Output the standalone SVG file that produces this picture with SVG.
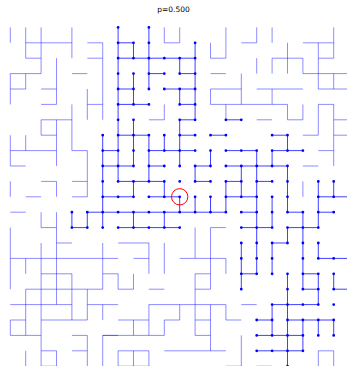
<svg xmlns="http://www.w3.org/2000/svg" width="347" height="366" viewBox="0 0 347 366">
<style>
.e{fill:none;stroke:#0000ff;stroke-width:1;vector-effect:non-scaling-stroke;stroke-linecap:butt}
.p{stroke-opacity:0.45}
.c{stroke-opacity:0.75}
.d{fill:none;stroke:#0000ff;stroke-width:2.8;stroke-linecap:round;vector-effect:non-scaling-stroke}
.t{font-family:"DejaVu Sans",sans-serif;font-size:7.5px;fill:#000}
</style>
<rect width="347" height="366" fill="#fff"/>
<text class="t" x="173.5" y="12" text-anchor="middle">p=0.500</text>
<g transform="translate(10.3,27.4) scale(15.4)">
<g id="connectors">
<path class="e p" d="M0 0v1M1 0v2M1 1h3M4 0v2M2 0v3M5 1h1M6 1v5M1 2h1M5 2h1M3 2v3M2 5h1M0 3h2M0 3v2M1 3v1M4 3h1M0 4h1M2 4h1M5 4v2M5 5h1M4 5v3M4 8h1M5 8v3M2 6h2M2 6v1M2 7h1M3 6v3M0 7v2M1 7v1M0 8h3M0 9h1M0 10v1M2 10h1M3 10v1M4 10h1M1 11h1M4 11h1M0 12h1M2 12v1M2 13h1M3 12v6M3 14h1M2 14v8M0 13v4M0 15h7M1 15v1M6 14v3M2 16h2M4 16v3M6 16h1M1 17h5M1 17v3M5 17v2M0 18h4M5 18h2M6 18v1M0 19h1M2 19h3M0 19v1M0 20h2M4 20h1M5 20v2M6 20h1M6 20v2M2 21h1M3 21v1M4 21h1M1 21v1M2 22h1
M10 0v1M10 1h1M11 0v1M14 0v2M13 2h1M13 1v1M13 3h1M13 4h2M13 4v1M13 5h5M14 5v1M10 5v1M9 6h1
M15 1h1M16 0v1M17 0v1M18 1v2M19 1h2M21 0v2M20 1v3M20 2h1M16 2v1M17 2h2M17 2v1M19 2v1M19 3h3M21 3v1M20 4h2M15 3v2M16 4h3M17 4v1M20 5h1
M18 5v1M18 6h1M19 5v1M20 5v2M19 7h1M21 5v4M21 6h1M21 7h1M16 6h1M20 8h1M19 9h1M19 10v1
M7 14h2M9 14v2M10 14v2M12 13v2M13 13v3M13 13h1M8 15h1M11 15h3M8 16v1M12 16h1M14 15v1
M7 16v1M7 17h1M9 17h1M12 16v4M13 16v1M12 17h1M9 18h5M9 18v2M11 18v1M13 18v3M14 18v1M7 19h2M10 19h1M12 19h1M8 19v1M10 19v1M6 20h4M12 20h1M7 21h2M10 21h4M7 21v1M8 21v1M9 21v1M7 22h2
M15 18h1M14 19h1M15 20v2M20 21h1M20 21v1M21 21v1M16 22h1M14 22h1"/>
<path class="e c" d="M7 0v10M9 0v4M7 1h1M8 1v1M7 2h5M11 2v1M11 3h1M9 3h1M8 3v2M7 4h1M10 4h2M11 4v1M7 5h2M11 5h1M12 1v5M11 6h1M8 6v3M11 6v3M7 7h2M10 7v1M11 7h1M13 7h1M9 7v3M9 8h3M7 9h1M9 9h1M12 9h1M12 9v1M13 8v1M7 10h3M12 10h1M8 10v1M10 10v1M6 11h2M9 11h2M11 11v1M12 11v1M13 11v1M14 10v2M6 7v6M6 8h1M6 9h1M5 12h9M4 12v1M5 12v1M4 13h1M7 13h4M8 12v1M10 12v1
M14 6h1M17 7h1M18 7v1M14 8h2M17 8h2M17 8v1M16 8v3M15 9v2M14 9h4M18 9v2M14 10h1M16 10h1
M20 10v3M21 10v1M20 11h2M16 11v2M17 11v2M14 11h2M15 12h1M18 12h1M20 12h1M18 11v1M15 13h2M18 13h2M18 13v1M16 13v3M17 14v2M19 12v4M20 14v1M20 15h2M17 14h1M15 16h1M19 16h1M15 14v2
M15 16v1M18 16v6M19 16v1M19 17h1M20 16v2M21 16v1M21 17h1M17 18h3M17 18v2M16 19h1M18 19h3M20 19v1M21 19v1M19 19v2M16 20h3M16 21h3"/>
</g>
<g id="cluster-sites">
<path class="d" d="M4 12h0M4 13h0M5 12h0M5 13h0M6 7h0M6 8h0M6 9h0M6 10h0M6 11h0M6 12h0M6 13h0
M7 0h0M7 1h0M7 2h0M7 3h0M7 4h0M7 5h0M7 6h0M7 7h0M7 8h0M7 9h0M7 10h0M7 11h0M7 12h0M7 13h0
M8 1h0M8 2h0M8 3h0M8 4h0M8 5h0M8 6h0M8 7h0M8 8h0M8 9h0M8 10h0M8 11h0M8 12h0M8 13h0
M9 0h0M9 1h0M9 2h0M9 3h0M9 4h0M9 5h0M9 7h0M9 8h0M9 9h0M9 10h0M9 11h0M9 12h0M9 13h0
M10 2h0M10 3h0M10 4h0M10 7h0M10 8h0M10 9h0M10 10h0M10 11h0M10 12h0M10 13h0
M11 2h0M11 3h0M11 4h0M11 5h0M11 6h0M11 7h0M11 8h0M11 9h0M11 10h0M11 11h0M11 12h0M11 13h0
M12 1h0M12 2h0M12 3h0M12 4h0M12 5h0M12 6h0M12 7h0M12 8h0M12 9h0M12 10h0M12 11h0M12 12h0
M13 7h0M13 8h0M13 9h0M13 10h0M13 11h0M13 12h0
M14 6h0M14 7h0M14 8h0M14 9h0M14 10h0M14 11h0M14 12h0
M15 6h0M15 8h0M15 9h0M15 10h0M15 11h0M15 12h0M15 13h0M15 14h0M15 15h0M15 16h0M15 17h0
M16 8h0M16 9h0M16 10h0M16 11h0M16 12h0M16 13h0M16 14h0M16 15h0M16 16h0M16 19h0M16 20h0M16 21h0
M17 7h0M17 8h0M17 9h0M17 10h0M17 11h0M17 12h0M17 13h0M17 14h0M17 15h0M17 16h0M17 18h0M17 19h0M17 20h0M17 21h0
M18 7h0M18 8h0M18 9h0M18 10h0M18 11h0M18 12h0M18 13h0M18 14h0M18 16h0M18 17h0M18 18h0M18 19h0M18 20h0M18 21h0M18 22h0
M19 8h0M19 12h0M19 13h0M19 14h0M19 15h0M19 16h0M19 17h0M19 18h0M19 19h0M19 20h0M19 21h0
M20 10h0M20 11h0M20 12h0M20 13h0M20 14h0M20 15h0M20 16h0M20 17h0M20 18h0M20 19h0M20 20h0
M21 10h0M21 11h0M21 12h0M21 15h0M21 16h0M21 17h0M21 18h0M21 19h0M21 20h0"/>
</g>
<g id="origin">
<circle cx="11" cy="11" r="0.53" fill="none" stroke="#ff0000" stroke-width="1" vector-effect="non-scaling-stroke"/>
</g>
</g>
</svg>
